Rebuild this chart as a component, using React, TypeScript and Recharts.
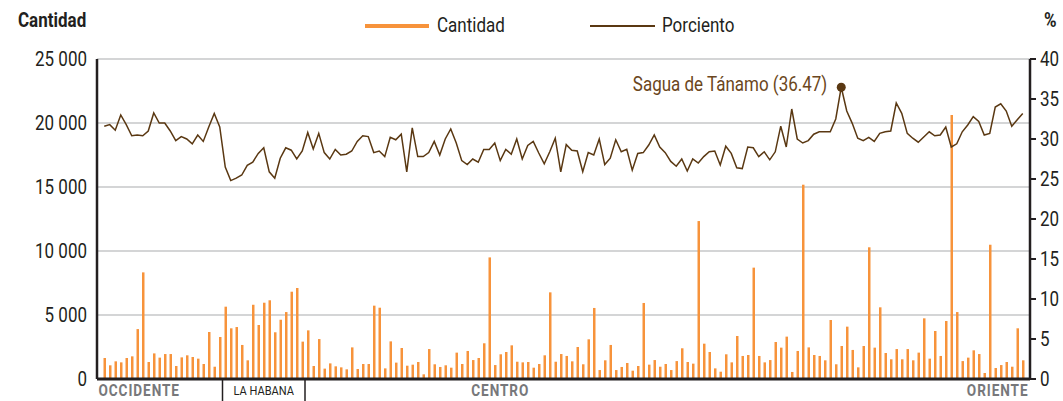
import { Bar, CartesianGrid, ComposedChart, Line, XAxis, YAxis } from "recharts";

// Cantidad por municipio (168 municipios, de occidente a oriente)
const cantidad = [
  1640, 1070, 1380, 1300, 1640, 1770, 3900, 8330, 1330, 2000, 1670, 1950, 1950, 1015, 1690, 1850,
  1720, 1590, 1170, 3670, 960, 3280, 5650, 3960, 4060, 2660, 1460, 5800, 4220, 5960, 6150, 3650,
  4630, 5230, 6820, 7110, 2920, 3800, 1015, 3120, 810, 1220, 990, 910, 755, 2470, 780, 1170,
  1170, 5730, 5570, 830, 2940, 1280, 2420, 1040, 1120, 1330, 365, 2340, 1150, 940, 1070, 885,
  2060, 1170, 2190, 1480, 1640, 2790, 9500, 1090, 1930, 2110, 2630, 1350, 1300, 1330, 885, 1170,
  1850, 6770, 1350, 1950, 1800, 1380, 2500, 1150, 3100, 5550, 700, 1460, 2660, 700, 940, 1250,
  650, 1015, 5940, 1120, 1480, 960, 1170, 700, 1400, 2400, 1330, 1200, 12340, 2760, 2110, 830,
  570, 1930, 1300, 3360, 1800, 1875, 8700, 1800, 1300, 1480, 2890, 2450, 3310, 550, 2190, 15180,
  2470, 1875, 1800, 1460, 4610, 1150, 2580, 4090, 2270, 910, 2580, 10290, 2450, 5600, 2030, 1540,
  2340, 1540, 2340, 1460, 2060, 4740, 1590, 3750, 1800, 4530, 20620, 5230, 1400, 1670, 2240, 1950,
  470, 10490, 860, 1090, 1330, 960, 3960, 1460,
];

// Porciento por municipio
const porciento = [
  31.6, 31.8, 31.1, 33.0, 31.8, 30.4, 30.5, 30.4, 31.0, 33.25, 32.0, 32.0, 31.0, 29.8, 30.3, 30.0,
  29.4, 30.5, 29.7, 31.5, 33.2, 31.5, 26.5, 24.8, 25.1, 25.5, 26.7, 27.1, 28.2, 28.9, 25.9, 25.1,
  27.6, 28.9, 28.6, 27.5, 28.5, 30.8, 28.75, 30.7, 28.3, 27.5, 28.7, 28.0, 28.1, 28.5, 29.7, 30.4,
  30.3, 28.3, 28.5, 27.8, 30.2, 29.9, 30.6, 25.9, 31.4, 27.8, 27.8, 28.3, 29.7, 28.0, 30.0, 31.25,
  29.5, 27.3, 26.8, 27.5, 27.1, 28.7, 28.7, 29.5, 27.3, 28.7, 28.1, 30.0, 27.5, 29.2, 29.7, 28.25,
  26.9, 28.4, 30.1, 25.9, 29.3, 28.6, 28.5, 25.9, 28.3, 28.0, 30.0, 26.8, 27.6, 29.9, 28.4, 28.7,
  26.1, 28.2, 28.3, 29.25, 30.5, 29.0, 28.3, 27.2, 26.6, 27.5, 26.0, 27.5, 27.0, 27.8, 28.4, 28.5,
  26.75, 29.1, 28.2, 26.4, 26.3, 29.0, 28.9, 27.8, 28.4, 27.4, 28.4, 31.6, 29.0, 33.75, 30.0, 29.5,
  29.8, 30.6, 30.9, 30.9, 30.9, 32.5, 36.47, 33.5, 31.96, 30.1, 29.8, 30.2, 29.7, 30.7, 30.9, 31.0,
  34.5, 33.2, 30.7, 30.1, 29.6, 30.25, 30.9, 30.4, 30.5, 31.5, 29.0, 29.4, 30.9, 31.75, 32.8, 32.2,
  30.5, 30.7, 34.0, 34.4, 33.5, 31.6, 32.4, 33.2,
];

const municipios = cantidad.map((_, i) => `M${i + 1}`);

// regiones: índice del primer municipio de cada tramo con divisor
const divisores = [22, 37];
const regionLabels = [
  { text: "OCCIDENTE", index: 0, anchor: "start", bold: true },
  { text: "LA HABANA", index: 29, anchor: "middle", bold: false },
  { text: "CENTRO", index: 72, anchor: "middle", bold: true },
  { text: "ORIENTE", index: 167, anchor: "end", bold: true },
];

const destacado = { index: 134, nombre: "Sagua de Tánamo" };

const leftTicks = [0, 5000, 10000, 15000, 20000, 25000];
const rightTicks = [0, 5, 10, 15, 20, 25, 30, 35, 40];

const data = municipios.map((m, i) => ({
  municipio: m,
  cantidad: cantidad[i],
  porciento: porciento[i],
}));

const FONT = 'Roboto, "Liberation Sans", sans-serif';
const SQUEEZE = 0.85; // la fuente original es condensada
const ORANGE = "#f7933b";
const BROWN = "#5a3812";
const DARK = "#231f20";

const fmtMiles = (v: number) => String(v).replace(/\B(?=(\d{3})+(?!\d))/g, " ");

function NarrowText({ x, y, anchor = "start", children, ...rest }: any) {
  return (
    <text
      transform={`translate(${x},${y}) scale(${SQUEEZE},1)`}
      x={0}
      y={0}
      textAnchor={anchor}
      fontFamily={FONT}
      {...rest}
    >
      {children}
    </text>
  );
}

function LeftTick(props: any) {
  const { x, y, payload } = props;
  return (
    <NarrowText x={x} y={y} anchor="end" dy="0.355em" fontSize={20} fill={DARK}>
      {fmtMiles(payload.value)}
    </NarrowText>
  );
}

function RightTick(props: any) {
  const { x, y, payload } = props;
  return (
    <NarrowText x={x} y={y} anchor="start" dy="0.355em" fontSize={20} fill={DARK}>
      {payload.value}
    </NarrowText>
  );
}

function RegionTick(props: any) {
  const { x, y, payload } = props;
  const i = payload.index;
  const half = payload.offset || 2.75;
  const parts: any[] = [];
  if (divisores.includes(i)) {
    parts.push(
      <line key="d" x1={x - half} x2={x - half} y1={y} y2={y + 24} stroke={DARK} strokeWidth={1.5} />
    );
  }
  const lab = regionLabels.find((r) => r.index === i);
  if (lab) {
    const lx = lab.anchor === "start" ? x - half - 3 : lab.anchor === "end" ? x + half + 3 : x;
    parts.push(
      <NarrowText
        key="t"
        x={lx}
        y={lab.bold ? y + 17 : y + 16}
        anchor={lab.anchor}
        fontSize={lab.bold ? 16 : 13}
        fontWeight={lab.bold ? 700 : 400}
        letterSpacing={lab.bold ? 1.1 : 0}
        fill={lab.bold ? "#77787b" : DARK}
      >
        {lab.text}
      </NarrowText>
    );
  }
  return <g>{parts}</g>;
}

function HighlightDot(props: any) {
  const { cx, cy, index } = props;
  if (index !== destacado.index) return <g key={`dot-${index}`} />;
  return (
    <g key={`dot-${index}`}>
      <circle cx={cx} cy={cy} r={4.5} fill={BROWN} />
      <NarrowText x={cx - 14} y={cy + 4} anchor="end" fontSize={20} fill="#6b4620">
        {`${destacado.nombre} (${porciento[destacado.index].toFixed(2)})`}
      </NarrowText>
    </g>
  );
}

const headText = (extra: any) => ({
  position: "absolute" as const,
  fontSize: 20,
  color: DARK,
  transform: `scaleX(${SQUEEZE})`,
  transformOrigin: "left center",
  whiteSpace: "nowrap" as const,
  lineHeight: "26px",
  ...extra,
});

export default function App() {
  return (
    <div style={{ position: "absolute", left: 0, top: 0, width: 1063, height: 401, background: "#fff", fontFamily: FONT }}>
      <div style={headText({ left: 18, top: 7, fontWeight: 700 })}>Cantidad</div>
      <div style={headText({ left: 1044, top: 7, fontWeight: 700 })}>%</div>

      <div style={{ position: "absolute", left: 365, top: 24, width: 64, height: 3.5, background: ORANGE }} />
      <div style={headText({ left: 437, top: 12 })}>Cantidad</div>
      <div style={{ position: "absolute", left: 590, top: 25, width: 65, height: 1.5, background: BROWN }} />
      <div style={headText({ left: 662, top: 12 })}>Porciento</div>

      <ComposedChart
        width={1063}
        height={401}
        data={data}
        margin={{ top: 59, right: 0, bottom: 0, left: 0 }}
        barCategoryGap={0}
      >
        <CartesianGrid yAxisId="left" vertical={false} stroke="#c6c7c9" strokeWidth={1.5} />
        <XAxis
          dataKey="municipio"
          interval={0}
          height={22}
          tickSize={0}
          tickMargin={0}
          tickLine={false}
          padding={{ left: 4.5, right: 4.5 }}
          axisLine={{ stroke: DARK, strokeWidth: 3 }}
          tick={<RegionTick />}
        />
        <YAxis
          yAxisId="left"
          width={97}
          domain={[0, 25000]}
          ticks={leftTicks}
          tickLine={false}
          tickMargin={4}
          axisLine={{ stroke: DARK, strokeWidth: 2.5 }}
          tick={<LeftTick />}
        />
        <YAxis
          yAxisId="right"
          orientation="right"
          width={33}
          domain={[0, 40]}
          ticks={rightTicks}
          tickSize={6}
          tickMargin={4}
          tickLine={{ stroke: DARK, strokeWidth: 2 }}
          axisLine={{ stroke: DARK, strokeWidth: 2.5 }}
          tick={<RightTick />}
        />
        <Bar yAxisId="left" dataKey="cantidad" fill={ORANGE} barSize={2.5} isAnimationActive={false} />
        <Line
          yAxisId="right"
          type="linear"
          dataKey="porciento"
          stroke={BROWN}
          strokeWidth={1.5}
          dot={HighlightDot}
          activeDot={false}
          isAnimationActive={false}
        />
      </ComposedChart>
    </div>
  );
}
